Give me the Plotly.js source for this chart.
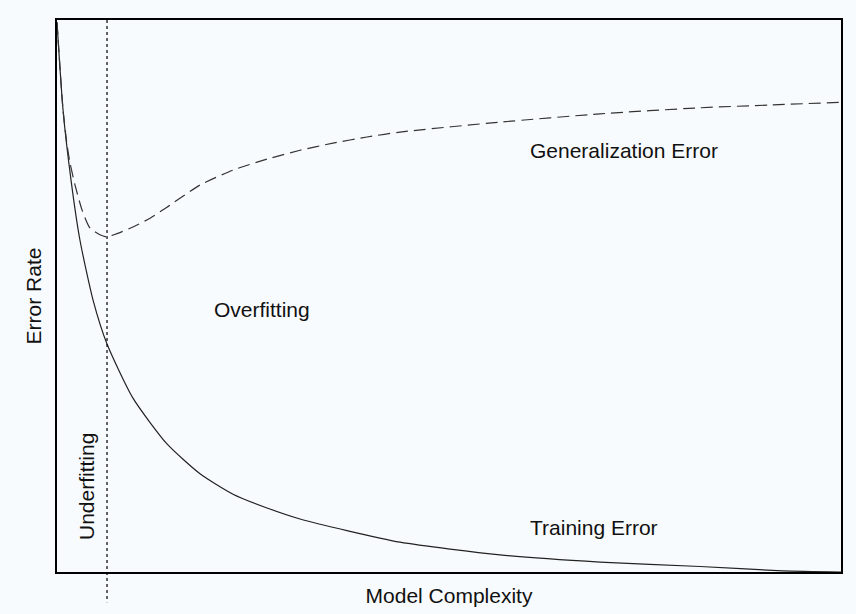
<!DOCTYPE html>
<html>
<head>
<meta charset="utf-8">
<script src="https://cdn.plot.ly/plotly-3.0.1.min.js"></script>
<style>html,body{margin:0;padding:0;background:#f8fbfd;}#chart{width:856px;height:614px;}</style>
</head>
<body>
<div id="chart"></div>
<script>
// Model complexity (0-100) and error rate (0-100)
const trainX = [0, 0.77, 1.79, 2.93, 4.59, 6.38, 9.69, 14.03, 18.24, 22.45, 26.79, 31.0, 43.75, 56.51, 69.26, 82.02, 92.6, 100];
const trainY = [99.6, 83.7, 71.0, 60.1, 49.3, 41.3, 31.5, 23.2, 17.8, 14.1, 11.6, 9.6, 5.4, 3.1, 1.8, 1.0, 0.2, 0];
const genX = [0, 0.77, 1.28, 1.66, 2.30, 3.19, 4.21, 5.48, 6.38, 7.65, 9.69, 11.86, 14.03, 18.24, 22.45, 26.79, 31.0, 35.2, 39.54, 43.75, 56.51, 69.26, 82.02, 90.94, 100];
const genY = [99.6, 83.7, 77.4, 74.1, 70.1, 65.6, 62.3, 61.1, 60.7, 61.3, 62.5, 64.1, 66.1, 70.1, 72.8, 74.8, 76.4, 77.7, 78.8, 79.7, 81.5, 83.0, 84.1, 84.6, 85.1];
const boundaryX = 6.38;
const labels = ["Generalization Error", "Overfitting", "Training Error", "Underfitting"];
const labelX = [60.1, 26.1, 60.1, 3.83];
const labelY = [76.3, 47.5, 8.0, 15.4];

const font = {family: "Liberation Sans, Arial, Helvetica, sans-serif", size: 21, color: "#111"};

const data = [
  {x: trainX, y: trainY, mode: "lines", line: {color: "#222", width: 1.2, shape: "spline", smoothing: 0.6}, hoverinfo: "skip"},
  {x: genX, y: genY, mode: "lines", line: {color: "#333", width: 1.2, dash: "12px,6px", shape: "spline", smoothing: 0.6}, hoverinfo: "skip"}
];

const layout = {
  width: 856, height: 614,
  margin: {l: 57, r: 15, t: 20, b: 42},
  paper_bgcolor: "#f8fbfd", plot_bgcolor: "#f8fbfd",
  showlegend: false,
  font: font,
  xaxis: {range: [0, 100], showgrid: false, zeroline: false, showticklabels: false, ticks: "",
    showline: true, mirror: true, linecolor: "#000", linewidth: 2,
    title: {text: "Model Complexity", font: font, standoff: 15}},
  yaxis: {range: [0, 100], showgrid: false, zeroline: false, showticklabels: false, ticks: "",
    showline: true, mirror: true, linecolor: "#000", linewidth: 2,
    title: {text: "Error Rate", font: font, standoff: 8}},
  shapes: [
    {type: "line", xref: "x", yref: "paper", x0: boundaryX, x1: boundaryX, y0: 1, y1: -0.055,
     line: {color: "#000", width: 1.2, dash: "3px,3px"}}
  ],
  annotations: labels.map((t, i) => ({
    text: t, x: labelX[i], y: labelY[i], xref: "x", yref: "y", showarrow: false,
    xanchor: (i === 0 || i === 2) ? "left" : "center", yanchor: "middle",
    textangle: i === 3 ? -90 : 0, font: font
  }))
};

Plotly.newPlot("chart", data, layout, {displayModeBar: false, staticPlot: true});
</script>
</body>
</html>
